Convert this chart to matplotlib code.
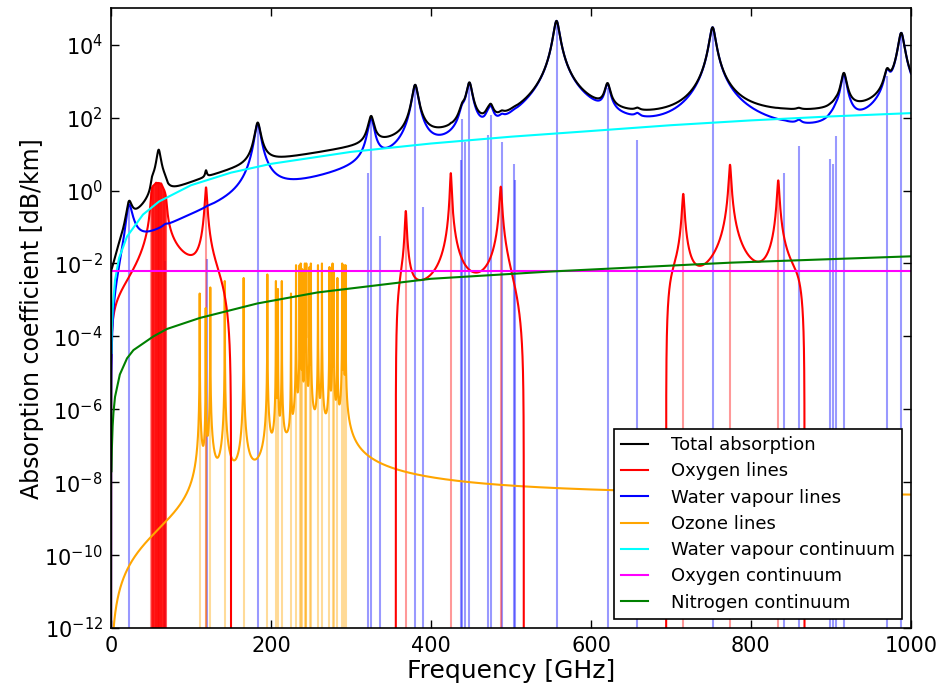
import numpy as np
import matplotlib
matplotlib.use("Agg")
import matplotlib.pyplot as plt
from matplotlib.ticker import NullLocator

plt.rcParams['axes.unicode_minus'] = False

# line centres [GHz] and peak absorption [dB/km]
h2o_freq = [22.235, 67.803, 119.995, 183.310, 321.226, 325.153, 336.187, 380.197,
            390.135, 437.347, 439.151, 443.018, 448.001, 470.889, 474.689, 488.491,
            503.569, 504.482, 556.936, 620.701, 658.007, 752.033, 841.073, 859.865,
            899.407, 902.555, 906.205, 916.172, 970.315, 987.927]
h2o_peak = [0.40, 0.012, 0.013, 68, 3.0, 90, 0.055, 770,
            0.36, 7, 90, 21, 850, 34, 120, 22,
            5.4, 1.9, 4.5e4, 670, 25, 3.0e4, 3.0, 17,
            7.4, 5.4, 32, 1500, 1400, 2.1e4]

o2_freq = [50.474, 50.987, 51.503, 52.021, 52.542, 53.067, 53.596, 54.130, 54.671,
           55.221, 55.784, 56.265, 56.363, 56.968, 57.612, 58.323, 58.446, 59.164,
           59.590, 60.306, 60.434, 61.150, 61.800, 62.411, 62.486, 62.997, 63.568,
           64.127, 64.678, 65.224, 65.764, 66.302, 66.836, 67.369, 67.900, 68.431,
           68.960, 118.750, 368.498, 424.763, 487.249, 715.393, 773.840, 834.146]
o2_peak = [0.26, 0.24, 0.23, 0.22, 0.22, 0.22, 0.22, 0.23, 0.23,
           0.23, 0.23, 0.23, 0.23, 0.24, 0.24, 0.24, 0.24, 0.24,
           0.24, 0.24, 0.24, 0.24, 0.23, 0.23, 0.23, 0.22, 0.21,
           0.20, 0.19, 0.18, 0.17, 0.16, 0.15, 0.14, 0.13, 0.12,
           0.12, 1.45, 0.28, 3.0, 1.6, 0.81, 5.1, 1.9]
o2_width = [1.2] * 37 + [1.2, 0.9, 0.85, 1.2, 1.2, 1.2, 1.2]
# frequency ranges where the oxygen line sum stays positive, and roll-off at each edge
o2_windows = [(0, 150), (356, 516), (694, 867)]
o2_rolloff = [(0, 20), (5, 20), (6, 7)]
# the total curve carries a much stronger 60 GHz band than the red curve shows
band_total_freq, band_total_peak, band_total_width = [59.5], [11.0], 2.5

o3_freq = [110.84, 118.36, 124.09, 142.18, 165.79, 195.43, 206.13, 208.64,
           213.5, 225.0, 231.28, 235.71, 237.15, 239.09, 242.32, 243.45, 244.16,
           248.18, 249.79, 258.72, 263.69, 273.05, 276.92, 278.5, 283.0, 288.96,
           290.9, 293.17]
o3_peak = [1.5e-3, 6e-4, 2.2e-3, 3.3e-3, 4e-3, 5e-3, 3.3e-3, 2e-3,
           3.3e-3, 1.5e-3, 9e-3, 9e-3, 1e-2, 7e-3, 1e-2, 9e-3, 1e-2,
           8e-3, 1e-2, 9e-3, 1e-2, 8e-3, 1e-2, 6e-3, 4e-3, 1e-2,
           9e-3, 9e-3]

h2o_width, o3_width = 3.4, 0.024

# continua
wvc_freq = [0.5, 1, 2, 5, 10, 20, 40, 60, 100, 150, 200, 300, 400, 500, 600, 700, 800, 900, 1000]
wvc_val = [3.5e-5, 1.4e-4, 5.6e-4, 3.5e-3, 1.4e-2, 5.5e-2, 0.22, 0.5, 1.4, 3.1, 5.4,
           11.5, 19.5, 30, 43, 62, 84, 108, 133]
o2c_freq = [0, 1000]
o2c_val = [6.3e-3, 6.3e-3]
n2c_freq = [0.5, 1, 2, 3, 5, 11, 20, 28, 53, 70, 111, 183, 258, 400, 549, 774, 1000]
n2c_val = [2e-8, 8e-8, 3.5e-7, 8e-7, 2.2e-6, 9e-6, 2.5e-5, 4.2e-5, 1e-4, 1.6e-4,
           3.2e-4, 8e-4, 1.6e-3, 3.8e-3, 6e-3, 1.05e-2, 1.57e-2]

y_ticks = [1e-12, 1e-10, 1e-8, 1e-6, 1e-4, 1e-2, 1e0, 1e2, 1e4]
x_ticks = [0, 200, 400, 600, 800, 1000]


def line_sum(f, centres, peaks, width, n):
    widths = np.broadcast_to(width, (len(centres),))
    out = np.zeros_like(f)
    for c, p, w in zip(centres, peaks, widths):
        out += p * (f / c)**n * w**2 * (1 / ((f - c)**2 + w**2)
                                        + 1 / ((f + c)**2 + w**2))
    return out


def loginterp(f, fx, vx):
    fx = np.maximum(np.asarray(fx, float), 1e-3)
    return np.exp(np.interp(np.log(np.maximum(f, 1e-3)), np.log(fx), np.log(vx)))


f = np.union1d(np.linspace(0, 1000, 200001), h2o_freq + o2_freq + o3_freq)

h2o = line_sum(f, h2o_freq, h2o_peak, h2o_width, 2)
o3 = line_sum(f, o3_freq, o3_peak, o3_width, 2)

taper = np.full_like(f, np.nan)
for (lo, hi), (slo, shi) in zip(o2_windows, o2_rolloff):
    m = (f >= lo) & (f <= hi)
    t = np.tanh((hi - f[m]) / shi)**2
    if slo:
        t *= np.tanh((f[m] - lo) / slo)**2
    taper[m] = t
o2 = line_sum(f, o2_freq, o2_peak, o2_width, 1) * taper

total = (h2o + np.nan_to_num(o2) + o3 + loginterp(f, wvc_freq, wvc_val)
         + loginterp(f, o2c_freq, o2c_val) + loginterp(f, n2c_freq, n2c_val)
         + line_sum(f, band_total_freq, band_total_peak, band_total_width, 1))
total[0] = 0

fig = plt.figure(figsize=(9.41, 6.89), dpi=100)
fig.subplots_adjust(left=0.118, right=0.968, bottom=0.0885, top=0.988)
ax = fig.add_subplot(111)

ymin, ymax = 1e-12, 1e5
o2_stick = np.interp(o2_freq, f, np.nan_to_num(o2))
ax.vlines(h2o_freq, ymin, h2o_peak, color='b', alpha=0.4, lw=1.5, zorder=1)
ax.vlines(o2_freq, ymin, o2_stick, color='r', alpha=0.4, lw=1.5, zorder=1)
ax.vlines(o3_freq, ymin, o3_peak, color='orange', alpha=0.4, lw=1.5, zorder=1)

l_o3, = ax.plot(f, o3, color='orange', lw=1.5)
l_o2, = ax.plot(f, o2, color='r', lw=1.5)
l_h2o, = ax.plot(f, h2o, color='b', lw=1.5)
l_wvc, = ax.plot(wvc_freq, wvc_val, color='cyan', lw=1.5)
l_o2c, = ax.plot(o2c_freq, o2c_val, color='magenta', lw=1.5)
l_n2c, = ax.plot(n2c_freq, n2c_val, color='g', lw=1.5)
l_tot, = ax.plot(f, total, color='k', lw=1.5)

ax.set_yscale('log')
ax.set_xlim(0, 1000)
ax.set_ylim(ymin, ymax)
ax.set_yticks(y_ticks)
ax.yaxis.set_minor_locator(NullLocator())
ax.set_xticks(x_ticks)
ax.tick_params(direction='in', top=True, right=True, length=6, width=1,
               labelsize=15, pad=6)
for s in ax.spines.values():
    s.set_linewidth(1.2)

ax.set_xlabel('Frequency [GHz]', fontsize=18, labelpad=2)
ax.set_ylabel('Absorption coefficient [dB/km]', fontsize=17, labelpad=0)

leg = ax.legend([l_tot, l_o2, l_h2o, l_o3, l_wvc, l_o2c, l_n2c],
                ['Total absorption', 'Oxygen lines', 'Water vapour lines', 'Ozone lines',
                 'Water vapour continuum', 'Oxygen continuum', 'Nitrogen continuum'],
                loc='lower right', fontsize=13, fancybox=False, framealpha=1,
                edgecolor='k', handlelength=1.5, handletextpad=1.25, labelspacing=0.46)
leg.get_frame().set_linewidth(1.2)

fig.savefig('out.png', dpi=100)
